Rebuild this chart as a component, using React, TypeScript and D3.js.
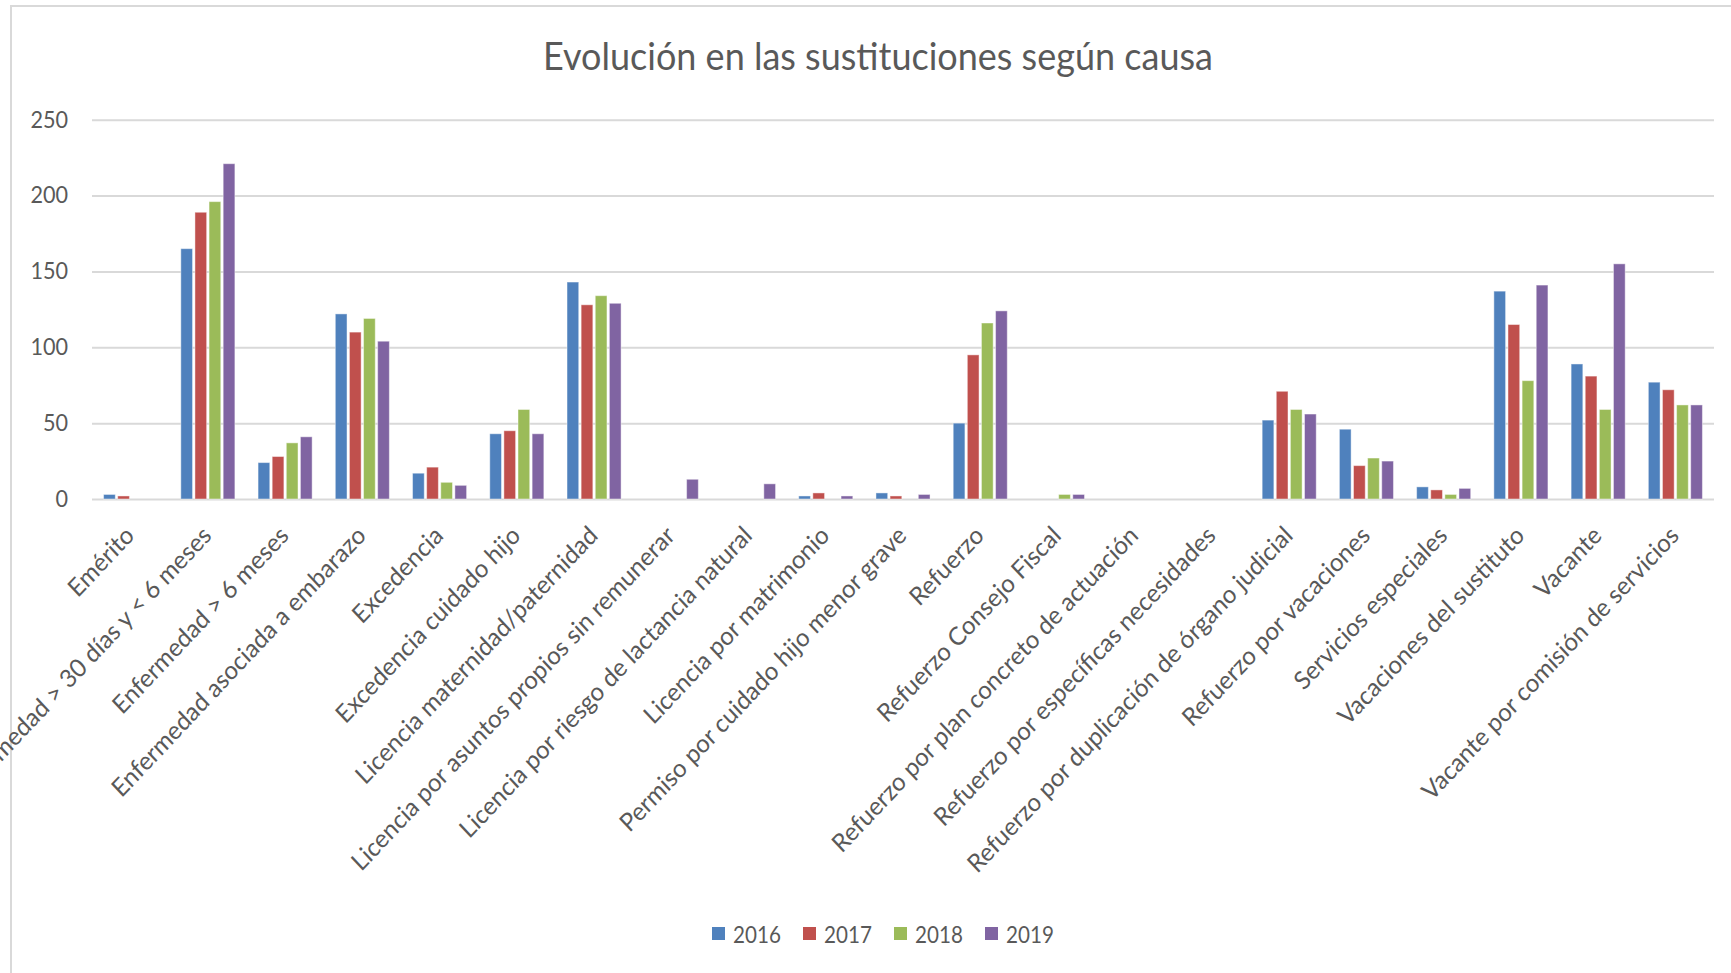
import React, { useEffect, useRef } from 'react';
import * as d3 from 'd3';

const categories = [
  'Emérito',
  'Enfermedad > 30 días y < 6 meses',
  'Enfermedad > 6 meses',
  'Enfermedad asociada a embarazo',
  'Excedencia',
  'Excedencia cuidado hijo',
  'Licencia maternidad/paternidad',
  'Licencia por asuntos propios sin remunerar',
  'Licencia por riesgo de lactancia natural',
  'Licencia por matrimonio',
  'Permiso por cuidado hijo menor grave',
  'Refuerzo',
  'Refuerzo Consejo Fiscal',
  'Refuerzo por plan concreto de actuación',
  'Refuerzo por específicas necesidades',
  'Refuerzo por duplicación de órgano judicial',
  'Refuerzo por vacaciones',
  'Servicios especiales',
  'Vacaciones del sustituto',
  'Vacante',
  'Vacante por comisión de servicios',
];

const years = ['2016', '2017', '2018', '2019'];
const values2016 = [3, 165, 24, 122, 17, 43, 143, 0, 0, 2, 4, 50, 0, 0, 0, 52, 46, 8, 137, 89, 77];
const values2017 = [2, 189, 28, 110, 21, 45, 128, 0, 0, 4, 2, 95, 0, 0, 0, 71, 22, 6, 115, 81, 72];
const values2018 = [0, 196, 37, 119, 11, 59, 134, 0, 0, 0, 0, 116, 3, 0, 0, 59, 27, 3, 78, 59, 62];
const values2019 = [0, 221, 41, 104, 9, 43, 129, 13, 10, 2, 3, 124, 3, 0, 0, 56, 25, 7, 141, 155, 62];
const yTicks = [0, 50, 100, 150, 200, 250];
const colors = ['#4F81BD', '#C0504D', '#9BBB59', '#8064A2'];

const W = 1731, H = 973;
const FONT = 'Lato, "Open Sans", sans-serif';
const TEXT = '#595959';

export default function App() {
  const ref = useRef<SVGSVGElement>(null);

  useEffect(() => {
    const svg = d3.select(ref.current);
    svg.selectAll('*').remove();

    const series = [values2016, values2017, values2018, values2019];
    const left = 92, right = 1714, top = 119.7, bottom = 499;

    const x0 = d3.scaleBand().domain(categories).range([left, right]).paddingInner(0.3).paddingOuter(0.15);
    const x1 = d3.scaleBand().domain(years).range([0, x0.bandwidth()]).paddingInner(0.17);
    const y = d3.scaleLinear().domain([0, 250]).range([bottom, top]);
    const color = d3.scaleOrdinal<string, string>().domain(years).range(colors);

    svg.append('rect')
      .attr('width', W).attr('height', H).attr('fill', '#fff');

    // chart border (cut off at right/bottom in the original)
    svg.append('rect')
      .attr('x', 11).attr('y', 6).attr('width', W).attr('height', H)
      .attr('fill', 'none').attr('stroke', '#d9d9d9').attr('stroke-width', 2);

    svg.append('text')
      .attr('transform', 'translate(878,70) scale(1,1.05)')
      .attr('text-anchor', 'middle')
      .attr('font-family', FONT).attr('font-size', 36)
      .attr('fill', TEXT)
      .text('Evolución en las sustituciones según causa');

    // y axis + gridlines
    const yAxis = svg.append('g')
      .attr('transform', `translate(${left},0)`)
      .call(d3.axisLeft(y).tickValues(yTicks).tickSizeInner(-(right - left)).tickSizeOuter(0).tickPadding(24));
    yAxis.select('.domain').remove();
    yAxis.selectAll('line').attr('stroke', '#d9d9d9').attr('stroke-width', 2);
    yAxis.selectAll('text')
      .attr('font-family', FONT).attr('font-size', 23).attr('fill', TEXT)
      .attr('transform', function () {
        const t = d3.select(this);
        const tx = +t.attr('x');
        return `translate(${tx},0) scale(0.94,1) translate(${-tx},0)`;
      });

    // bars
    const groups = svg.append('g').selectAll('g')
      .data(categories)
      .enter().append('g')
      .attr('transform', d => `translate(${x0(d)},0)`);

    groups.selectAll('rect')
      .data((d, i) => years.map((yr, k) => ({ yr, v: series[k][i] })))
      .enter().append('rect')
      .attr('x', d => x1(d.yr)!)
      .attr('y', d => y(d.v))
      .attr('width', x1.bandwidth())
      .attr('height', d => bottom - y(d.v))
      .attr('fill', d => color(d.yr))
      .attr('stroke', '#fff').attr('stroke-opacity', 0.45).attr('stroke-width', 1);

    // category labels (slightly stretched vertically like the original image)
    svg.append('g').selectAll('text')
      .data(categories)
      .enter().append('text')
      .attr('transform', d => `translate(${x0(d)! + x0.bandwidth() / 2 + 5},537) scale(1,1.064) rotate(-45)`)
      .attr('text-anchor', 'end')
      .attr('font-family', FONT).attr('font-size', 23.8).attr('fill', TEXT)
      .text(d => d);

    // legend
    const legend = svg.append('g').selectAll('g')
      .data(years)
      .enter().append('g')
      .attr('transform', (d, i) => `translate(${712 + i * 91},0)`);
    legend.append('rect')
      .attr('x', 0).attr('y', 927).attr('width', 13).attr('height', 13)
      .attr('fill', d => color(d));
    legend.append('text')
      .attr('transform', 'translate(21,942.5) scale(0.86,1)')
      .attr('font-family', FONT).attr('font-size', 24).attr('fill', TEXT)
      .text(d => d);
  }, []);

  return (
    <svg ref={ref} width={W} height={H}
      style={{ position: 'absolute', left: 0, top: 0, display: 'block' }} />
  );
}
